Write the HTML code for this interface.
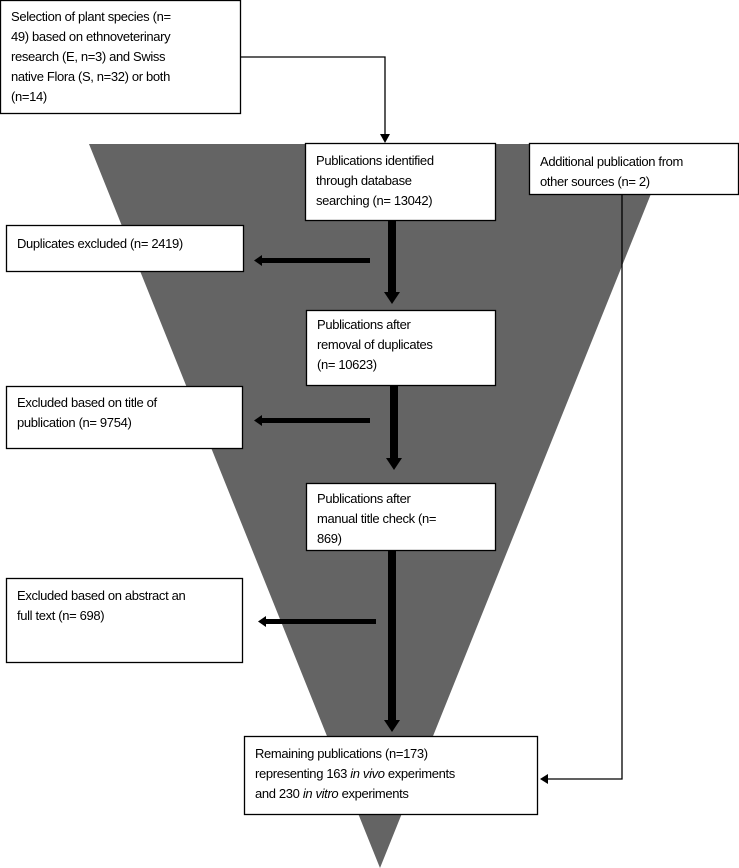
<!DOCTYPE html>
<html><head><meta charset="utf-8"><style>
html,body{margin:0;padding:0;background:#fff;}
svg{display:block;}
text{font-family:"Liberation Sans",sans-serif;font-size:13px;fill:#000;letter-spacing:-0.35px;}
rect{fill:#fff;stroke:#000;stroke-width:1.3;}
</style></head><body>
<svg width="739" height="868" viewBox="0 0 739 868" xmlns="http://www.w3.org/2000/svg">
<polygon points="89,144 671,144 380,868" fill="#646464"/>
<!-- connector from box1 -->
<polyline points="241,57 385,57 385,136" fill="none" stroke="#000" stroke-width="1.3"/>
<polygon points="380,134 390,134 385,143" fill="#000"/>
<!-- right connector -->
<polyline points="622,195 622,779 548,779" fill="none" stroke="#000" stroke-width="1.3"/>
<polygon points="548,774 548,784 540,779" fill="#000"/>
<!-- thick down arrows -->
<rect x="388" y="221" width="8" height="73" style="fill:#000;stroke:none"/>
<polygon points="384,292 400,292 392,304" fill="#000"/>
<rect x="390" y="386" width="8" height="74" style="fill:#000;stroke:none"/>
<polygon points="386,458 402,458 394,470" fill="#000"/>
<rect x="388" y="551" width="8" height="171" style="fill:#000;stroke:none"/>
<polygon points="384,720 400,720 392,732" fill="#000"/>
<!-- left arrows -->
<rect x="260" y="258" width="110" height="5" style="fill:#000;stroke:none"/>
<polygon points="262,255 262,266 254,260.5" fill="#000"/>
<rect x="260" y="418" width="110" height="5" style="fill:#000;stroke:none"/>
<polygon points="262,415 262,426 254,420.5" fill="#000"/>
<rect x="264" y="619" width="112" height="5" style="fill:#000;stroke:none"/>
<polygon points="266,616 266,627 258,621.5" fill="#000"/>
<!-- boxes -->
<rect x="0.5" y="0.5" width="240" height="113"/>
<text x="11" y="21">Selection of plant species (n=</text>
<text x="11" y="41">49) based on ethnoveterinary</text>
<text x="11" y="61">research (E, n=3) and Swiss</text>
<text x="11" y="81">native Flora (S, n=32) or both</text>
<text x="11" y="101">(n=14)</text>

<rect x="305.5" y="143.5" width="190" height="77"/>
<text x="316" y="165">Publications identified</text>
<text x="316" y="185">through database</text>
<text x="316" y="205">searching (n= 13042)</text>

<rect x="529.5" y="143.5" width="209" height="51"/>
<text x="540" y="166">Additional publication from</text>
<text x="540" y="186">other sources (n= 2)</text>

<rect x="6.5" y="225.5" width="237" height="46"/>
<text x="17" y="248">Duplicates excluded (n= 2419)</text>

<rect x="306.5" y="310.5" width="189" height="75"/>
<text x="317" y="329">Publications after</text>
<text x="317" y="349">removal of duplicates</text>
<text x="317" y="369">(n= 10623)</text>

<rect x="6.5" y="386.5" width="236" height="62"/>
<text x="17" y="407">Excluded based on title of</text>
<text x="17" y="427">publication  (n= 9754)</text>

<rect x="306.5" y="483.5" width="189" height="67"/>
<text x="317" y="503">Publications after</text>
<text x="317" y="523">manual title check (n=</text>
<text x="317" y="543">869)</text>

<rect x="6.5" y="578.5" width="236" height="84"/>
<text x="17" y="600">Excluded based on abstract an</text>
<text x="17" y="620">full text (n= 698)</text>

<rect x="244.5" y="736.5" width="293" height="78"/>
<text x="255" y="758">Remaining publications (n=173)</text>
<text x="255" y="778">representing 163 <tspan font-style="italic">in vivo</tspan> experiments</text>
<text x="255" y="798">and 230 <tspan font-style="italic">in vitro</tspan> experiments</text>
</svg>
</body></html>
